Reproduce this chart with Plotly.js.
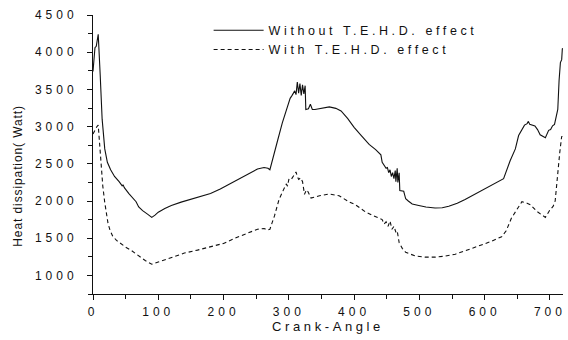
<!DOCTYPE html>
<html>
<head>
<meta charset="utf-8">
<script src="https://cdn.plot.ly/plotly-3.0.1.min.js"></script>
<style>
  html, body { margin: 0; padding: 0; background: #fff; }
  #chart { width: 568px; height: 340px; }
  .xtick text, .ytick text { letter-spacing: 4px; }
  .legendtext { letter-spacing: 3.6px; }
  .xtitle { letter-spacing: 3.6px; }
  .annotation-text { letter-spacing: 0.9px; }
</style>
</head>
<body>
<div id="chart"></div>
<script>
// Crank angle (deg) and heat dissipation (W) without T.E.H.D. effect
const angleWithout = [0,3,5,8,11,14,18,22,27,33,40,45,46,48,55,62,66,70,76,84,90,95,100,110,120,135,150,165,180,195,210,225,240,252,262,268,271,276,283,290,296,302,305,309,311,313,315,317,319,321,323,325,326,330,333,336,340,350,362,372,380,390,400,410,423,433,438,441,443,446,449,451,453,455,457,459,461,463,464,466,467,469,470,476,479,483,489,499,510,524,535,545,558,570,585,596,610,629,639,647,652,657,661,665,667,669,677,681,685,693,698,701,704,707,710,712,714,716,718,719,720];
const heatWithout = [3740,4060,4080,4240,3700,3100,2700,2520,2420,2330,2260,2200,2220,2180,2100,2020,1990,1920,1870,1820,1780,1810,1850,1900,1940,1985,2025,2060,2100,2160,2230,2300,2370,2430,2450,2440,2420,2600,2820,3050,3230,3380,3420,3480,3430,3600,3450,3580,3420,3560,3440,3550,3230,3240,3300,3230,3230,3250,3265,3245,3210,3110,2990,2890,2760,2690,2650,2620,2520,2480,2440,2450,2380,2420,2330,2380,2300,2410,2260,2440,2250,2380,2140,2130,2030,2000,1960,1940,1920,1905,1910,1930,1970,2020,2090,2140,2210,2300,2540,2700,2880,2960,3020,3040,3070,3030,3010,2960,2890,2850,2950,2960,3010,3030,3150,3230,3620,3860,3900,4050,4040];

// Crank angle (deg) and heat dissipation (W) with T.E.H.D. effect
const angleWith = [0,3,6,8,10,12,15,18,20,23,26,30,36,42,50,58,65,72,80,90,100,110,120,140,160,180,200,220,240,252,262,268,271,278,285,293,296,298,300,303,307,311,313,315,318,321,324,327,329,334,347,362,377,392,402,418,430,438,443,446,449,452,455,458,461,464,466,469,474,479,494,509,524,540,555,570,588,596,611,626,633,641,650,657,665,670,680,690,693,700,705,708,712,715,718,720];
const heatWith = [2900,2960,3000,3020,2750,2470,2200,1980,1850,1700,1610,1530,1470,1430,1380,1340,1290,1250,1200,1150,1180,1210,1240,1300,1340,1380,1430,1510,1580,1620,1630,1610,1620,1800,2020,2180,2230,2200,2290,2280,2330,2390,2330,2290,2310,2260,2090,2150,2130,2040,2070,2095,2070,1990,1950,1850,1800,1770,1750,1690,1720,1660,1730,1620,1660,1580,1600,1440,1360,1310,1260,1245,1245,1260,1285,1330,1385,1420,1460,1520,1600,1770,1900,1990,1970,1950,1860,1800,1780,1880,1930,2000,2420,2650,2870,2850];

const seriesNames = ['Without T.E.H.D. effect', 'With T.E.H.D. effect'];
const xTicks = [0,100,200,300,400,500,600,700];
const yTicks = [1000,1500,2000,2500,3000,3500,4000,4500];

const FONT = 'Liberation Sans, Arial, sans-serif';
const INK = '#111';

const traces = [
  { x: angleWithout, y: heatWithout, name: seriesNames[0], type: 'scatter', mode: 'lines',
    line: { color: INK, width: 1.1 } },
  { x: angleWith, y: heatWith, name: seriesNames[1], type: 'scatter', mode: 'lines',
    line: { color: INK, width: 1.1, dash: '4px,3px' } }
];

const axisCommon = {
  showgrid: false, zeroline: false, showline: true, linecolor: INK, linewidth: 1,
  ticks: 'outside', ticklen: 5, tickwidth: 1, tickcolor: INK,
  tickfont: { family: FONT, size: 12, color: INK },
  mirror: false
};

const layout = {
  width: 568, height: 340,
  margin: { l: 93, r: 5, t: 15, b: 46 },
  paper_bgcolor: '#fff', plot_bgcolor: '#fff',
  showlegend: true,
  legend: {
    x: 0.246, xanchor: 'left', y: 0.998, yanchor: 'top',
    bgcolor: 'rgba(0,0,0,0)', borderwidth: 0,
    font: { family: FONT, size: 12.5, color: INK },
    itemwidth: 50, tracegroupgap: 0
  },
  xaxis: Object.assign({}, axisCommon, {
    range: [0, 720], tickvals: xTicks, ticktext: xTicks.map(String),
    minor: { dtick: 50, ticks: 'outside', ticklen: 4, tickcolor: INK },
    ticklabelstandoff: 2,
    title: { text: 'Crank-Angle', font: { family: FONT, size: 13, color: INK }, standoff: 3 }
  }),
  yaxis: Object.assign({}, axisCommon, {
    range: [750, 4500], tickvals: yTicks, ticktext: yTicks.map(String),
    minor: { dtick: 250, ticks: 'outside', ticklen: 4, tickcolor: INK },
    ticklabelstandoff: 7
  }),
  annotations: [{
    text: 'Heat dissipation( Watt)', textangle: -90, showarrow: false,
    xref: 'paper', yref: 'paper', x: -0.159, y: 0.425, xanchor: 'center', yanchor: 'middle',
    font: { family: FONT, size: 12, color: INK }
  }]
};

Plotly.newPlot('chart', traces, layout, { staticPlot: true, displayModeBar: false });
</script>
</body>
</html>
